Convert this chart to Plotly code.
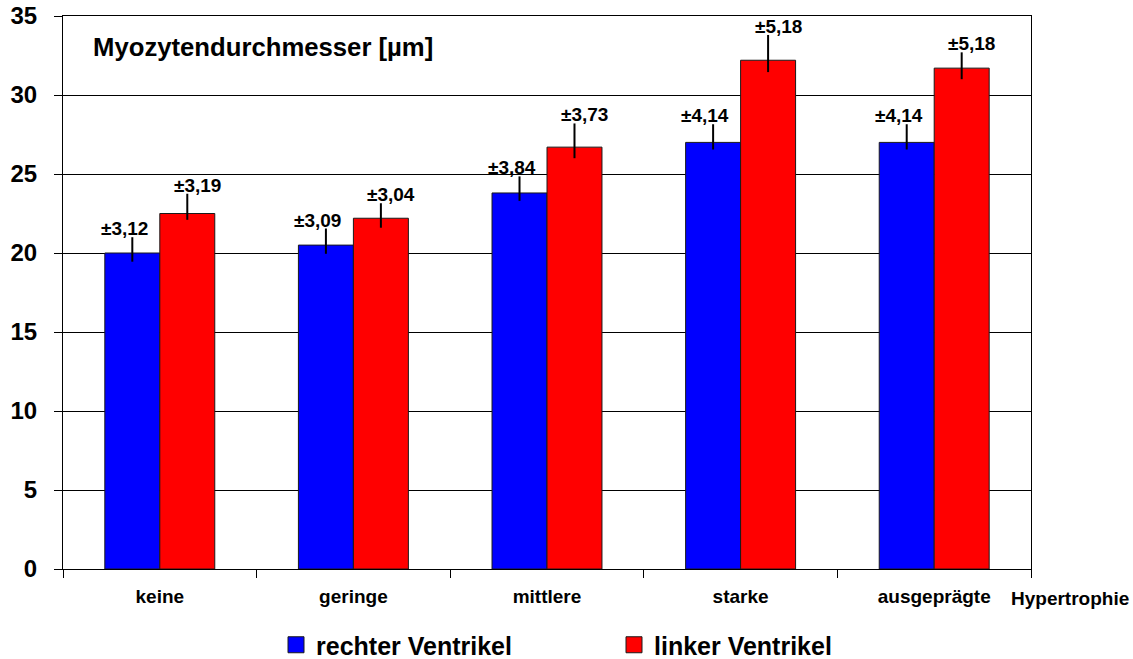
import plotly.graph_objects as go

categories = ["keine", "geringe", "mittlere", "starke", "ausgeprägte"]
rechter = [20.0, 20.5, 23.8, 27.0, 27.0]
linker = [22.5, 22.2, 26.7, 32.2, 31.7]
rechter_plus = [1.0, 1.05, 1.05, 1.15, 1.15]
rechter_minus = [0.55, 0.55, 0.5, 0.45, 0.45]
linker_plus = [1.25, 0.95, 1.5, 1.6, 1.0]
linker_minus = [0.4, 0.6, 0.7, 0.75, 0.7]
rechter_labels = ["±3,12", "±3,09", "±3,84", "±4,14", "±4,14"]
linker_labels = ["±3,19", "±3,04", "±3,73", "±5,18", "±5,18"]
y_ticks = [0, 5, 10, 15, 20, 25, 30, 35]

FONT = "Liberation Sans, Arial, sans-serif"
W, H = 1133, 659
ML, MR, MT, MB = 63, 102, 16, 90
BARGAP = 0.432
BLUE, RED = "#0000FF", "#FF0000"

plot_w = W - ML - MR
cat_px = plot_w / len(categories)
bar_px = cat_px * (1 - BARGAP) / 2

fig = go.Figure()
fig.add_trace(go.Bar(
    x=categories, y=rechter, name="rechter Ventrikel", showlegend=False,
    marker=dict(color=BLUE, line=dict(color="#1a1a1a", width=1)),
    error_y=dict(type="data", symmetric=False, array=rechter_plus,
                 arrayminus=rechter_minus, width=0, thickness=2, color="black"),
))
fig.add_trace(go.Bar(
    x=categories, y=linker, name="linker Ventrikel", showlegend=False,
    marker=dict(color=RED, line=dict(color="#1a1a1a", width=1)),
    error_y=dict(type="data", symmetric=False, array=linker_plus,
                 arrayminus=linker_minus, width=0, thickness=2, color="black"),
))
# legend-only entries with larger square symbols
for name, col in [("rechter Ventrikel", BLUE), ("linker Ventrikel", RED)]:
    fig.add_trace(go.Scatter(
        x=[None], y=[None], mode="markers", name=name, showlegend=True,
        marker=dict(symbol="square", size=16, color=col, line=dict(color="#1a1a1a", width=1)),
    ))

annotations = []
for c, v, p, t in zip(categories, rechter, rechter_plus, rechter_labels):
    annotations.append(dict(x=c, y=v + p, text=t, showarrow=False, xref="x", yref="y",
                            xanchor="center", yanchor="bottom",
                            xshift=-bar_px / 2 - 8, yshift=-4,
                            font=dict(family=FONT, size=19, color="black", weight="bold")))
for c, v, p, t in zip(categories, linker, linker_plus, linker_labels):
    annotations.append(dict(x=c, y=v + p, text=t, showarrow=False, xref="x", yref="y",
                            xanchor="center", yanchor="bottom",
                            xshift=bar_px / 2 + 10, yshift=-4,
                            font=dict(family=FONT, size=19, color="black", weight="bold")))

annotations.append(dict(text="Myozytendurchmesser [µm]", x=0.029, y=0.944, xref="paper", yref="paper",
                        xanchor="left", yanchor="middle", showarrow=False,
                        font=dict(family=FONT, size=25.7, color="black", weight="bold")))
annotations.append(dict(text="Hypertrophie", x=0.977, y=-0.054, xref="paper", yref="paper",
                        xanchor="left", yanchor="middle", showarrow=False,
                        font=dict(family=FONT, size=19, color="black", weight="bold")))

fig.update_layout(
    width=W, height=H,
    margin=dict(l=ML, r=MR, t=MT, b=MB, pad=0, autoexpand=False),
    paper_bgcolor="white", plot_bgcolor="white",
    barmode="group", bargap=BARGAP, bargroupgap=0,
    font=dict(family=FONT, color="black"),
    showlegend=True,
    legend=dict(orientation="h", xref="container", yref="container",
                x=276 / W, y=(H - 645) / H, xanchor="left", yanchor="middle",
                entrywidth=293, itemwidth=30, itemsizing="trace",
                font=dict(family=FONT, size=25, color="black", weight="bold")),
    annotations=annotations,
)
fig.update_xaxes(
    showline=True, linecolor="black", linewidth=1, mirror=True,
    ticks="outside", tickson="boundaries", ticklen=8, tickcolor="black",
    tickfont=dict(family=FONT, size=19, color="black", weight="bold"),
    ticklabelstandoff=10, showgrid=False,
)
fig.update_yaxes(
    range=[0, 35], tickvals=y_ticks,
    showline=True, linecolor="black", linewidth=1, mirror=True,
    ticks="outside", ticklen=8, tickcolor="black",
    tickfont=dict(family=FONT, size=24, color="black", weight="bold"),
    ticklabelstandoff=12,
    showgrid=True, gridcolor="black", gridwidth=1, zeroline=False,
)

fig.write_html("out.html", config={"displayModeBar": False},
               post_script="document.body.style.margin='0';document.body.style.padding='0';")
